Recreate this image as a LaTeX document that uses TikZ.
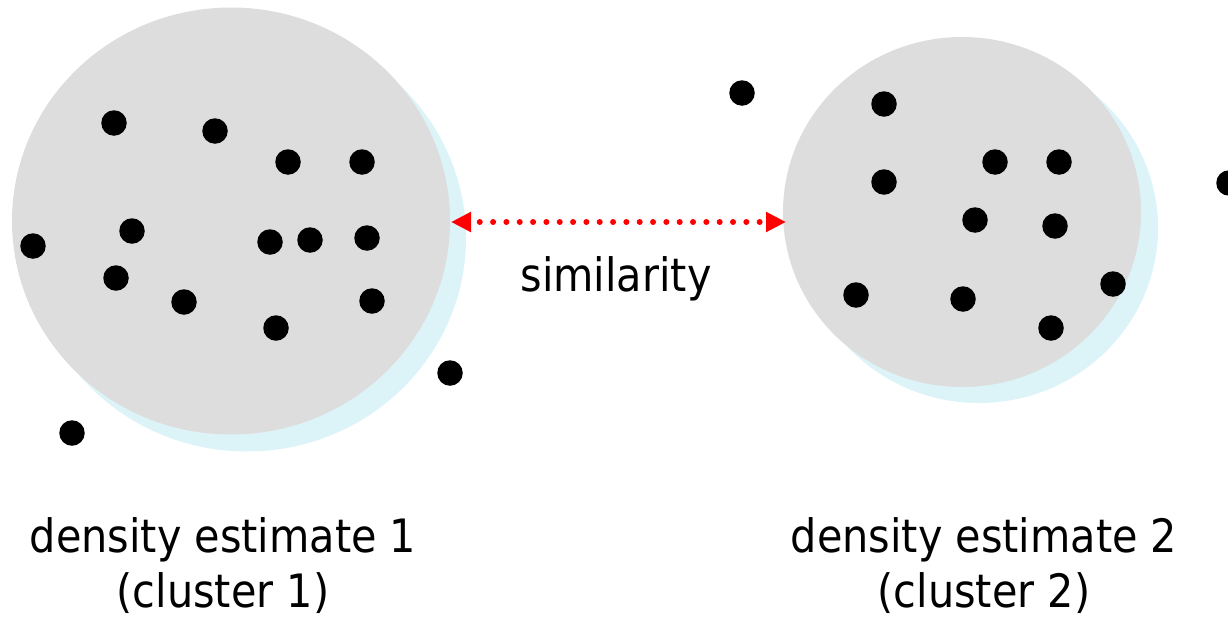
\documentclass[tikz,border=0pt]{standalone}
\usepackage{fontspec}
\setmainfont{DejaVu Sans Condensed}
\usetikzlibrary{arrows.meta,shapes.geometric}
\definecolor{clgrey}{HTML}{DDDDDD}
\definecolor{clshadow}{HTML}{DCF4F8}
\definecolor{arrred}{HTML}{FF0000}
\begin{document}
\begin{tikzpicture}[x=1pt,y=-1pt,
  pt/.style={circle,fill=black,inner sep=0pt,minimum size=25.5pt},
  cluster/.style={ellipse,fill=clgrey,inner sep=0pt},
  shadowblob/.style={ellipse,fill=clshadow,inner sep=0pt},
  lbl/.style={font=\fontsize{46}{55}\selectfont,inner sep=0pt,align=center},
  simarrow/.style={arrred,line width=6pt,line cap=round,
    dash pattern=on 0pt off 13.33pt,dash phase=3.33pt,
    {Triangle[length=20pt,width=19pt]}-{Triangle[length=20pt,width=19pt]}}
]
\useasboundingbox (0,0) rectangle (1228,616);
% shadows
\node[shadowblob,minimum width=438pt,minimum height=427pt] (s1) at (247,238) {};
\node[shadowblob,minimum width=358pt,minimum height=350pt] (s2) at (979,228) {};
% clusters
\node[cluster,minimum width=438pt,minimum height=427pt] (c1) at (231,221) {};
\node[cluster,minimum width=358pt,minimum height=350pt] (c2) at (962,212) {};
% cluster 1 points
\node[pt] (a1) at (114,123) {};
\node[pt] (a2) at (215,131) {};
\node[pt] (a3) at (288,162) {};
\node[pt] (a4) at (362,162) {};
\node[pt] (a5) at (132,231) {};
\node[pt] (a6) at (33,246) {};
\node[pt] (a7) at (270,242) {};
\node[pt] (a8) at (310,240) {};
\node[pt] (a9) at (367,238) {};
\node[pt] (a10) at (116,278) {};
\node[pt] (a11) at (184,302) {};
\node[pt] (a12) at (372,301) {};
\node[pt] (a13) at (276,328) {};
\node[pt] (a14) at (450,373) {};
\node[pt] (a15) at (72,433) {};
% cluster 2 points
\node[pt] (b1) at (884,104) {};
\node[pt] (b2) at (995,162) {};
\node[pt] (b3) at (1059,162) {};
\node[pt] (b4) at (884,182) {};
\node[pt] (b5) at (975,220) {};
\node[pt] (b6) at (1055,226) {};
\node[pt] (b7) at (856,295) {};
\node[pt] (b8) at (963,299) {};
\node[pt] (b9) at (1113,284) {};
\node[pt] (b10) at (1051,328) {};
% outliers
\node[pt] (o1) at (742,93) {};
\node[pt] (o2) at (1229,183) {};
% similarity arrow
\coordinate (arrL) at (451,222);
\coordinate (arrR) at (786,222);
\draw[simarrow] (arrL) -- (arrR);
\node[lbl,anchor=base] (sim) at (616,291) {similarity};
% labels
\node[lbl,anchor=base] (l1) at (223,607) {density estimate 1\\(cluster 1)};
\node[lbl,anchor=base] (l2) at (984,607) {density estimate 2\\(cluster 2)};
\end{tikzpicture}
\end{document}
